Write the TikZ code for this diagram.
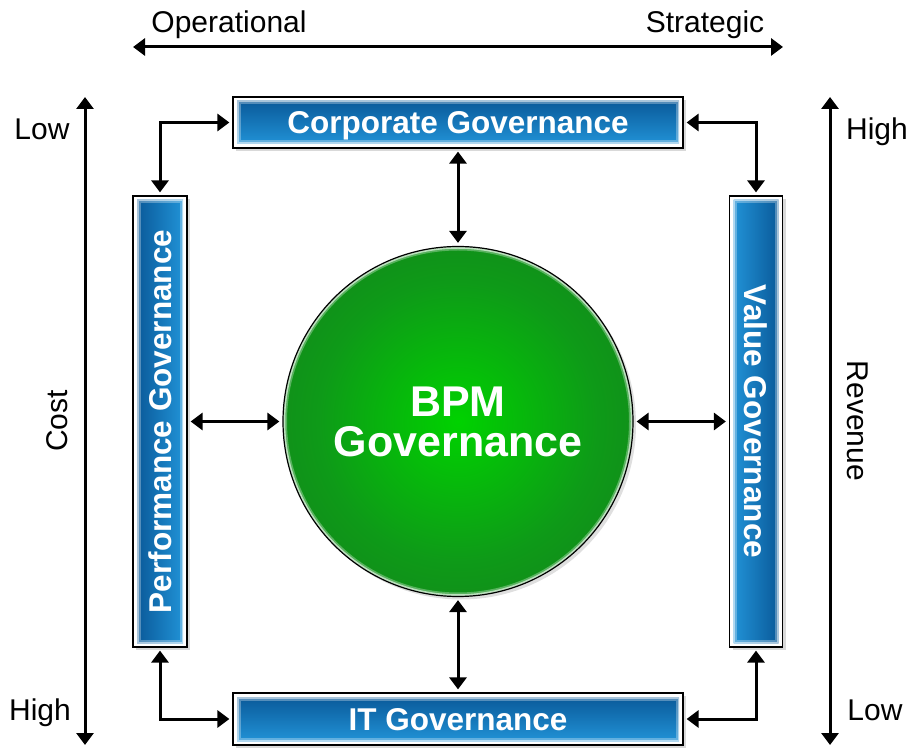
\documentclass[tikz,border=0pt]{standalone}
\usepackage{fontspec}
\setmainfont{Liberation Sans}
\usepackage{graphicx}
\usetikzlibrary{arrows.meta,shadows,calc}
\definecolor{govdark}{HTML}{0A5A9A}
\definecolor{govlight}{HTML}{2192D6}
\definecolor{bpmlight}{HTML}{00D200}
\definecolor{bpmmid}{HTML}{0E9A18}
\definecolor{bpmdark}{HTML}{1A681E}
\pgfdeclareradialshading{bpmglow}{\pgfpoint{0bp}{0bp}}{color(0bp)=(bpmlight); color(20bp)=(bpmmid); color(50bp)=(bpmdark); color(72bp)=(bpmdark)}
\tikzset{govbox/.style = {draw=black, line width=1.2pt, fill=white, inner sep=0pt, text=white,
	font=\fontsize{31.5}{36}\selectfont\bfseries,
	drop shadow={shadow xshift=3pt, shadow yshift=-3pt, opacity=.3},
	path picture={
		\coordinate (gb1) at ($(path picture bounding box.south west)+(4pt,4pt)$);
		\coordinate (gb2) at ($(path picture bounding box.north east)+(-4pt,-4pt)$);
		\shade [top color=govdark, bottom color=govlight, shading angle=#1] (gb1) rectangle (gb2);
		\draw [white, line width=7pt, opacity=.3] (gb1) rectangle (gb2);
		\draw [white, line width=3pt, opacity=.5] (gb1) rectangle (gb2);
	}}, govbox/.default=0}
\tikzset{bpmcircle/.style = {circle, draw=black, line width=1.2pt, minimum size=350pt, inner sep=0pt,
	shading=bpmglow, align=center, text=white, font=\fontsize{43}{40}\selectfont\bfseries,
	drop shadow={shadow xshift=3pt, shadow yshift=-3pt, opacity=.25},
	path picture={
		\draw [white, line width=6pt, opacity=.3] (path picture bounding box.center) circle (174pt);
		\draw [white, line width=2.5pt, opacity=.6] (path picture bounding box.center) circle (174pt);
	}}}
\tikzset{govarrow/.style = {{Triangle[length=12pt,width=17pt]}-{Triangle[length=12pt,width=17pt]}, line width=3pt, shorten >=3pt, shorten <=3pt}}
\tikzset{axisarrow/.style = {{Triangle[length=12pt,width=17pt]}-{Triangle[length=12pt,width=17pt]}, line width=3pt}}
\tikzset{axislbl/.style = {font=\fontsize{30}{36}\selectfont, inner sep=0pt}}

\begin{document}
\begin{tikzpicture}[x=1pt,y=1pt]
	\useasboundingbox (0,0) rectangle (912,747);
	% axes
	\coordinate (opend) at (133,700);
	\coordinate (strend) at (783,700);
	\coordinate (costtop) at (85,650);
	\coordinate (costbot) at (85,2);
	\coordinate (revtop) at (830,650);
	\coordinate (revbot) at (830,2);
	\draw [axisarrow] (opend) -- (strend);
	\draw [axisarrow] (costtop) -- (costbot);
	\draw [axisarrow] (revtop) -- (revbot);
	\node [axislbl, anchor=base] (oplbl) at (229,714) {Operational};
	\node [axislbl, anchor=base] (strlbl) at (705,714) {Strategic};
	\node [axislbl, anchor=base] (costlow) at (42,607) {Low};
	\node [axislbl, anchor=base] (costhigh) at (40,27) {High};
	\node [axislbl, rotate=90] (costlbl) at (57.5,326) {Cost};
	\node [axislbl, anchor=base] (revhigh) at (877,607) {High};
	\node [axislbl, anchor=base] (revlow) at (875,27) {Low};
	\node [axislbl, rotate=-90] (revlbl) at (857.5,326) {Revenue};
	% boxes
	\node [govbox, text depth=0pt, minimum width=450pt, minimum height=51pt] (corp) at (458,624.5) {Corporate Governance};
	\node [govbox, text depth=0pt, minimum width=450pt, minimum height=52pt] (it) at (458,28) {IT Governance};
	\node [govbox=90, minimum width=54pt, minimum height=451pt] (perf) at (160,325.5) {\rotatebox{90}{Performance Governance}};
	\node [govbox=-90, minimum width=53pt, minimum height=451pt] (value) at (756,325.5) {\rotatebox{-90}{Value Governance}};
	\node [bpmcircle] (bpm) at (458,325.5) {BPM\\Governance};
	% links
	\draw [govarrow] (corp.west) -| (perf.north);
	\draw [govarrow] (corp.east) -| (value.north);
	\draw [govarrow] (it.west) -| (perf.south);
	\draw [govarrow] (it.east) -| (value.south);
	\draw [govarrow] (corp.south) -- (bpm.north);
	\draw [govarrow] (bpm.south) -- (it.north);
	\draw [govarrow] (perf.east) -- (bpm.west);
	\draw [govarrow] (bpm.east) -- (value.west);
\end{tikzpicture}
\end{document}
